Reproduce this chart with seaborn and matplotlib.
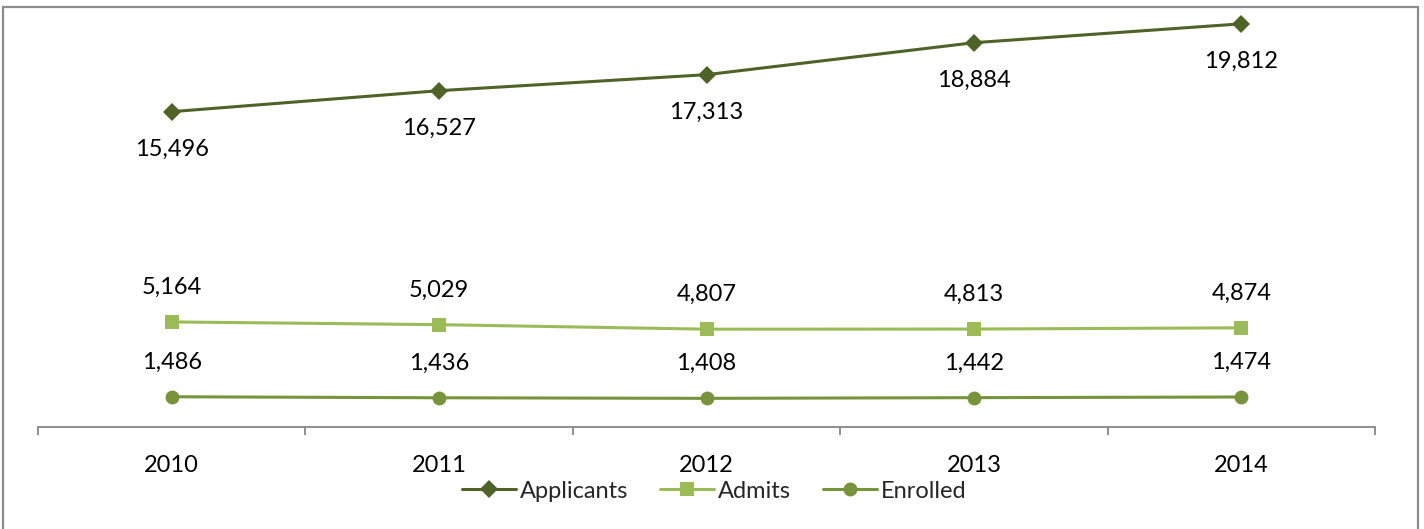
import matplotlib
matplotlib.use("Agg")
import matplotlib.pyplot as plt
import seaborn as sns
import pandas as pd
from matplotlib.patches import Rectangle
from matplotlib.lines import Line2D

years = ["2010", "2011", "2012", "2013", "2014"]
applicants = [15496, 16527, 17313, 18884, 19812]
admits = [5164, 5029, 4807, 4813, 4874]
enrolled = [1486, 1436, 1408, 1442, 1474]

series_names = ["Applicants", "Admits", "Enrolled"]
colors = {"Applicants": "#4F6228", "Admits": "#9BBB59", "Enrolled": "#77933C"}
markers = {"Applicants": "D", "Admits": "s", "Enrolled": "o"}
msizes = {"Applicants": 9, "Admits": 10, "Enrolled": 10}

sns.set_theme(style="white")
plt.rcParams["font.family"] = ["Lato", "DejaVu Sans"]

W, H = 1424, 529
fig = plt.figure(figsize=(W / 100, H / 100), dpi=100)
ax = fig.add_axes([38 / W, (H - 427) / H, (1375 - 38) / W, (427 - 20) / H])

df = pd.DataFrame({
    "x": list(range(len(years))) * 3,
    "value": applicants + admits + enrolled,
    "series": sum([[s] * len(years) for s in series_names], []),
})

for s in series_names:
    d = df[df["series"] == s]
    sns.lineplot(data=d, x="x", y="value", ax=ax, color=colors[s], lw=2.2,
                 marker=markers[s], markersize=msizes[s], markeredgewidth=0,
                 legend=False, clip_on=False)

fs = 17
for i, v in enumerate(applicants):
    ax.annotate(f"{v:,}", (i, v), xytext=(0, -27), textcoords="offset points",
                ha="center", va="center", fontsize=fs, color="black")
for vals in (admits, enrolled):
    for i, v in enumerate(vals):
        ax.annotate(f"{v:,}", (i, v), xytext=(0, 25), textcoords="offset points",
                    ha="center", va="center", fontsize=fs, color="black")

ax.set_xlim(-0.5, len(years) - 0.5)
ax.set_ylim(0, 20000)
ax.set_yticks([])
ax.set_xticks(range(len(years)))
ax.set_xticklabels(years, fontsize=fs, color="black")
ax.set_xticks([i - 0.5 for i in range(len(years) + 1)], minor=True)
ax.tick_params(axis="x", which="major", length=0, pad=20)
ax.tick_params(axis="x", which="minor", length=6, width=1.3, color="#868686",
               bottom=True, direction="out")
ax.set_xlabel("")
ax.set_ylabel("")
for sp in ["top", "left", "right"]:
    ax.spines[sp].set_visible(False)
ax.spines["bottom"].set_color("#868686")
ax.spines["bottom"].set_linewidth(1.3)
ax.patch.set_alpha(0)

handles = [Line2D([0], [0], color=colors[s], lw=2.2, marker=markers[s],
                  markersize=msizes[s], markeredgewidth=0) for s in series_names]
fig.legend(handles, series_names, loc="center", bbox_to_anchor=(714 / W, 1 - 491 / H),
           ncol=3, frameon=False, fontsize=fs, handlelength=2.3, handletextpad=0.15,
           columnspacing=1.35)

fig.patches.append(Rectangle((3 / W, -0.05), (1418 - 3) / W, (H - 7) / H + 0.05,
                             transform=fig.transFigure, fill=False,
                             edgecolor="#8C8C8C", lw=1.6, zorder=0))

fig.savefig("out.png", dpi=100, facecolor="white")
